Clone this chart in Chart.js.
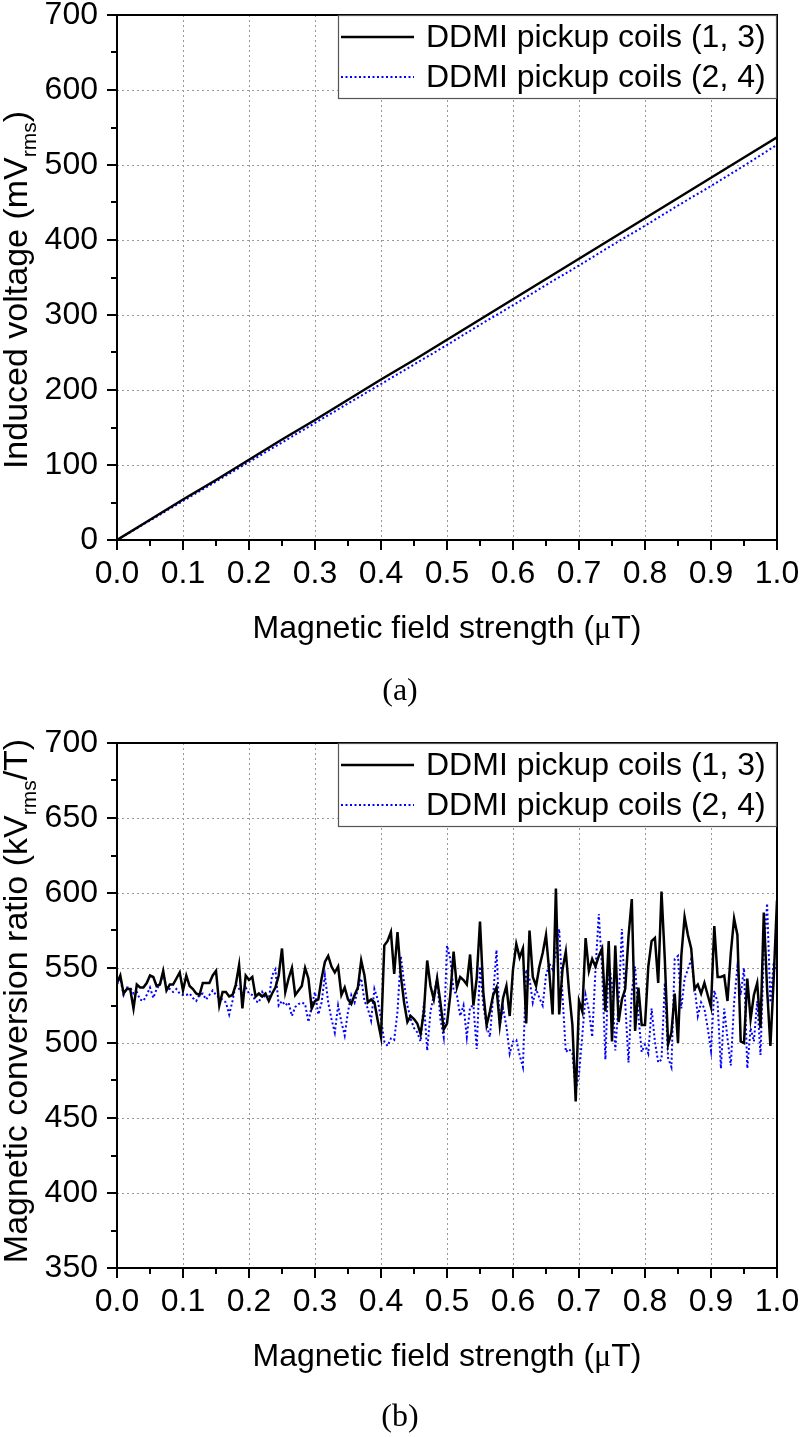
<!DOCTYPE html>
<html>
<head>
<meta charset="utf-8">
<script src="https://cdn.jsdelivr.net/npm/chart.js@4.4.1/dist/chart.umd.min.js"></script>
<style>
  html, body { margin: 0; padding: 0; background: #fff; }
  canvas { display: block; }
</style>
</head>
<body>
<canvas id="chartA" width="800" height="728"></canvas>
<canvas id="chartB" width="800" height="709"></canvas>
<script>
// panel (a): induced voltage, sampled every 0.05 uT
const fieldA = [0, 0.05, 0.1, 0.15, 0.2, 0.25, 0.3, 0.35, 0.4, 0.45, 0.5,
                0.55, 0.6, 0.65, 0.7, 0.75, 0.8, 0.85, 0.9, 0.95, 1.0];
const voltage13 = [0, 27, 54, 80, 107, 134, 160, 187, 214, 240, 267,
                   294, 321, 348, 375, 402, 429, 456, 483, 510, 537];
const voltage24 = [0, 26, 52, 78, 104, 130, 156, 182, 208, 234, 260,
                   287, 313, 340, 366, 393, 419, 446, 472, 499, 527];

// panel (b): conversion ratio, sampled every 0.005 uT (201 points)
const stepB = 0.005;
const ratio13 = [
  540, 545, 533, 536, 536, 523, 539, 537, 537, 540,
  545, 544, 538, 539, 548, 535, 539, 539, 543, 547,
  535, 545, 538, 536, 533, 532, 540, 540, 540, 545,
  548, 525, 534, 534, 531, 532, 539, 552, 523, 545,
  542, 544, 531, 533, 531, 533, 528, 533, 537, 545,
  563, 534, 543, 550, 532, 535, 538, 550, 543, 523,
  528, 529, 543, 554, 558, 551, 547, 551, 532, 537,
  529, 526, 532, 537, 555, 545, 527, 529, 527, 515,
  504, 565, 568, 574, 546, 574, 545, 527, 514, 518,
  516, 513, 506, 521, 555, 538, 529, 543, 527, 509,
  513, 532, 561, 537, 544, 542, 539, 559, 525, 543,
  581, 534, 512, 521, 532, 537, 512, 530, 538, 518,
  549, 566, 557, 563, 513, 575, 544, 538, 551, 560,
  572, 547, 519, 603, 519, 549, 561, 534, 512, 461,
  528, 521, 570, 548, 556, 551, 558, 563, 521, 568,
  501, 565, 514, 529, 536, 571, 596, 508, 537, 512,
  512, 551, 568, 570, 540, 601, 556, 499, 507, 533,
  500, 558, 584, 572, 563, 536, 539, 533, 540, 532,
  524, 578, 544, 544, 545, 528, 560, 583, 572, 501,
  500, 543, 516, 532, 540, 510, 587, 536, 498, 543,
  595
];
const ratio24 = [
  539, 543, 532, 537, 537, 533, 534, 529, 528, 532,
  537, 530, 536, 539, 546, 537, 536, 534, 536, 533,
  532, 532, 533, 530, 528, 532, 533, 529, 532, 535,
  532, 530, 529, 527, 519, 528, 539, 536, 533, 537,
  533, 532, 528, 527, 534, 530, 529, 545, 549, 525,
  528, 525, 527, 518, 524, 526, 527, 526, 514, 525,
  534, 519, 527, 545, 527, 516, 507, 525, 514, 505,
  521, 532, 527, 536, 543, 528, 523, 515, 536, 529,
  516, 501, 498, 503, 502, 521, 558, 540, 525, 516,
  510, 507, 501, 527, 495, 521, 532, 543, 516, 504,
  565, 556, 535, 532, 518, 525, 504, 524, 525, 496,
  551, 525, 512, 504, 532, 562, 512, 523, 511, 493,
  501, 502, 492, 484, 549, 543, 527, 536, 530, 525,
  545, 553, 549, 560, 576, 532, 494, 496, 493, 469,
  479, 505, 532, 522, 504, 549, 586, 549, 489, 553,
  540, 495, 527, 576, 527, 487, 534, 551, 518, 494,
  499, 493, 523, 501, 487, 489, 540, 490, 484, 556,
  558, 523, 543, 549, 556, 538, 518, 527, 523, 510,
  495, 535, 527, 483, 523, 503, 485, 527, 551, 532,
  550, 483, 510, 501, 528, 492, 560, 593, 527, 554,
  548
];

const labels = ["DDMI pickup coils (1, 3)", "DDMI pickup coils (2, 4)"];

const SANS = "'Liberation Sans', Arial, sans-serif";
const SERIF = "'Liberation Serif', 'Times New Roman', serif";

// turn x / y lists into {x, y} points
function pts(xs, ys) {
  return ys.map((y, i) => ({ x: xs[i], y: y }));
}
let fieldB = [];
for (let i = 0; i < ratio13.length; i++) {
  fieldB.push(+(i * stepB).toFixed(3));
}

// draws rich text (with subscripts / serif parts) left to right from x
function drawParts(ctx, parts, x, y, size) {
  parts.forEach(p => {
    const fs = p.sub ? Math.round(size * 0.62) : size;
    ctx.font = fs + "px " + (p.serif ? SERIF : SANS);
    ctx.fillText(p.t, x, y + (p.sub ? size * 0.26 : 0));
    x += ctx.measureText(p.t).width;
  });
}
function partsWidth(ctx, parts, size) {
  let w = 0;
  parts.forEach(p => {
    const fs = p.sub ? Math.round(size * 0.62) : size;
    ctx.font = fs + "px " + (p.serif ? SERIF : SANS);
    w += ctx.measureText(p.t).width;
  });
  return w;
}

const framePlugin = {
  id: "frame",
  afterDraw(chart, args, o) {
    const ctx = chart.ctx, a = chart.chartArea;
    const xs = chart.scales.x, ys = chart.scales.y;
    ctx.save();

    // box
    ctx.strokeStyle = "#000";
    ctx.lineWidth = 2;
    ctx.strokeRect(a.left, a.top, a.right - a.left, a.bottom - a.top);

    // outward ticks, major + minor
    ctx.beginPath();
    for (let k = 0; k <= 20; k++) {
      const px = Math.round(xs.getPixelForValue(k * 0.05));
      ctx.moveTo(px, a.bottom);
      ctx.lineTo(px, a.bottom + (k % 2 === 0 ? 10 : 6));
    }
    const nY = Math.round((o.yMax - o.yMin) / o.yMinor);
    for (let k = 0; k <= nY; k++) {
      const py = Math.round(ys.getPixelForValue(o.yMin + k * o.yMinor));
      ctx.moveTo(a.left, py);
      ctx.lineTo(a.left - (k % 2 === 0 ? 10 : 6), py);
    }
    ctx.stroke();

    // legend
    const lw = 439, lh = 84;
    const lx = a.right - lw, ly = a.top;
    ctx.fillStyle = "#fff";
    ctx.fillRect(lx, ly, lw, lh);
    ctx.strokeStyle = "#555";
    ctx.lineWidth = 1.2;
    ctx.strokeRect(lx + 0.5, ly + 0.5, lw - 1, lh - 1);
    chart.data.datasets.forEach((ds, i) => {
      const ry = ly + 22 + i * 40;
      ctx.beginPath();
      ctx.strokeStyle = ds.borderColor;
      ctx.lineWidth = ds.borderWidth;
      ctx.setLineDash(ds.borderDash || []);
      ctx.moveTo(lx + 3, ry);
      ctx.lineTo(lx + 76, ry);
      ctx.stroke();
      ctx.setLineDash([]);
      ctx.fillStyle = "#000";
      ctx.font = "32px " + SANS;
      ctx.textBaseline = "middle";
      ctx.textAlign = "left";
      ctx.fillText(ds.label, lx + 88, ry + 1);
    });

    // x title
    ctx.fillStyle = "#000";
    ctx.textBaseline = "alphabetic";
    ctx.textAlign = "left";
    const xw = partsWidth(ctx, o.xTitle, 32);
    drawParts(ctx, o.xTitle, (a.left + a.right) / 2 - xw / 2, 638, 32);

    // y title (rotated)
    ctx.save();
    ctx.translate(27, o.yTitleCenter);
    ctx.rotate(-Math.PI / 2);
    const yw = partsWidth(ctx, o.yTitle, 34);
    drawParts(ctx, o.yTitle, -yw / 2, 0, 34);
    ctx.restore();

    // panel label
    ctx.font = "32px " + SERIF;
    ctx.textAlign = "center";
    ctx.textBaseline = "middle";
    ctx.fillText(o.panel, 400, o.panelY);

    ctx.restore();
  }
};

function makeChart(id, datasets, yMin, yMax, yStep, yMinor, yTitle, yTitleCenter, panel, panelY) {
  const el = document.getElementById(id);
  const h = el.height;
  return new Chart(el, {
    type: "line",
    data: { datasets: datasets },
    options: {
      responsive: false,
      animation: false,
      layout: { padding: { top: 15, right: 23, left: 0, bottom: 0 } },
      elements: { point: { radius: 0 }, line: { tension: 0 } },
      plugins: {
        legend: { display: false },
        tooltip: { enabled: false },
        frame: {
          yMin: yMin, yMax: yMax, yMinor: yMinor,
          xTitle: [{ t: "Magnetic field strength (" }, { t: "\u03bc", serif: true }, { t: "T)" }],
          yTitle: yTitle, yTitleCenter: yTitleCenter,
          panel: panel, panelY: panelY
        }
      },
      scales: {
        x: {
          type: "linear",
          min: 0, max: 1,
          ticks: {
            stepSize: 0.1, autoSkip: false, maxRotation: 0, padding: 15,
            color: "#000", font: { family: SANS, size: 32 },
            callback: v => v.toFixed(1)
          },
          grid: { color: "#999", lineWidth: 1, drawTicks: false },
          border: { display: false, dash: [2, 3] },
          afterFit(s) { s.height = h - 540; s.paddingLeft = 0; s.paddingRight = 0; }
        },
        y: {
          min: yMin, max: yMax,
          ticks: {
            stepSize: yStep, autoSkip: false, padding: 19,
            color: "#000", font: { family: SANS, size: 32 }
          },
          grid: { color: "#999", lineWidth: 1, drawTicks: false },
          border: { display: false, dash: [2, 3] },
          afterFit(s) { s.width = 117; s.paddingTop = 0; s.paddingBottom = 0; }
        }
      }
    },
    plugins: [framePlugin]
  });
}

makeChart("chartA", [
  { label: labels[0], data: pts(fieldA, voltage13), borderColor: "#000000", borderWidth: 2.5 },
  { label: labels[1], data: pts(fieldA, voltage24), borderColor: "#0000ff", borderWidth: 2, borderDash: [2, 2.5] }
], 0, 700, 100, 50,
  [{ t: "Induced voltage (mV" }, { t: "rms", sub: true }, { t: ")" }], 290, "(a)", 692);

makeChart("chartB", [
  { label: labels[0], data: pts(fieldB, ratio13), borderColor: "#000000", borderWidth: 2.5 },
  { label: labels[1], data: pts(fieldB, ratio24), borderColor: "#0000ff", borderWidth: 2, borderDash: [2, 2.5] }
], 350, 700, 50, 25,
  [{ t: "Magnetic conversion ratio (kV" }, { t: "rms", sub: true }, { t: "/T)" }], 273, "(b)", 690);
</script>
</body>
</html>
